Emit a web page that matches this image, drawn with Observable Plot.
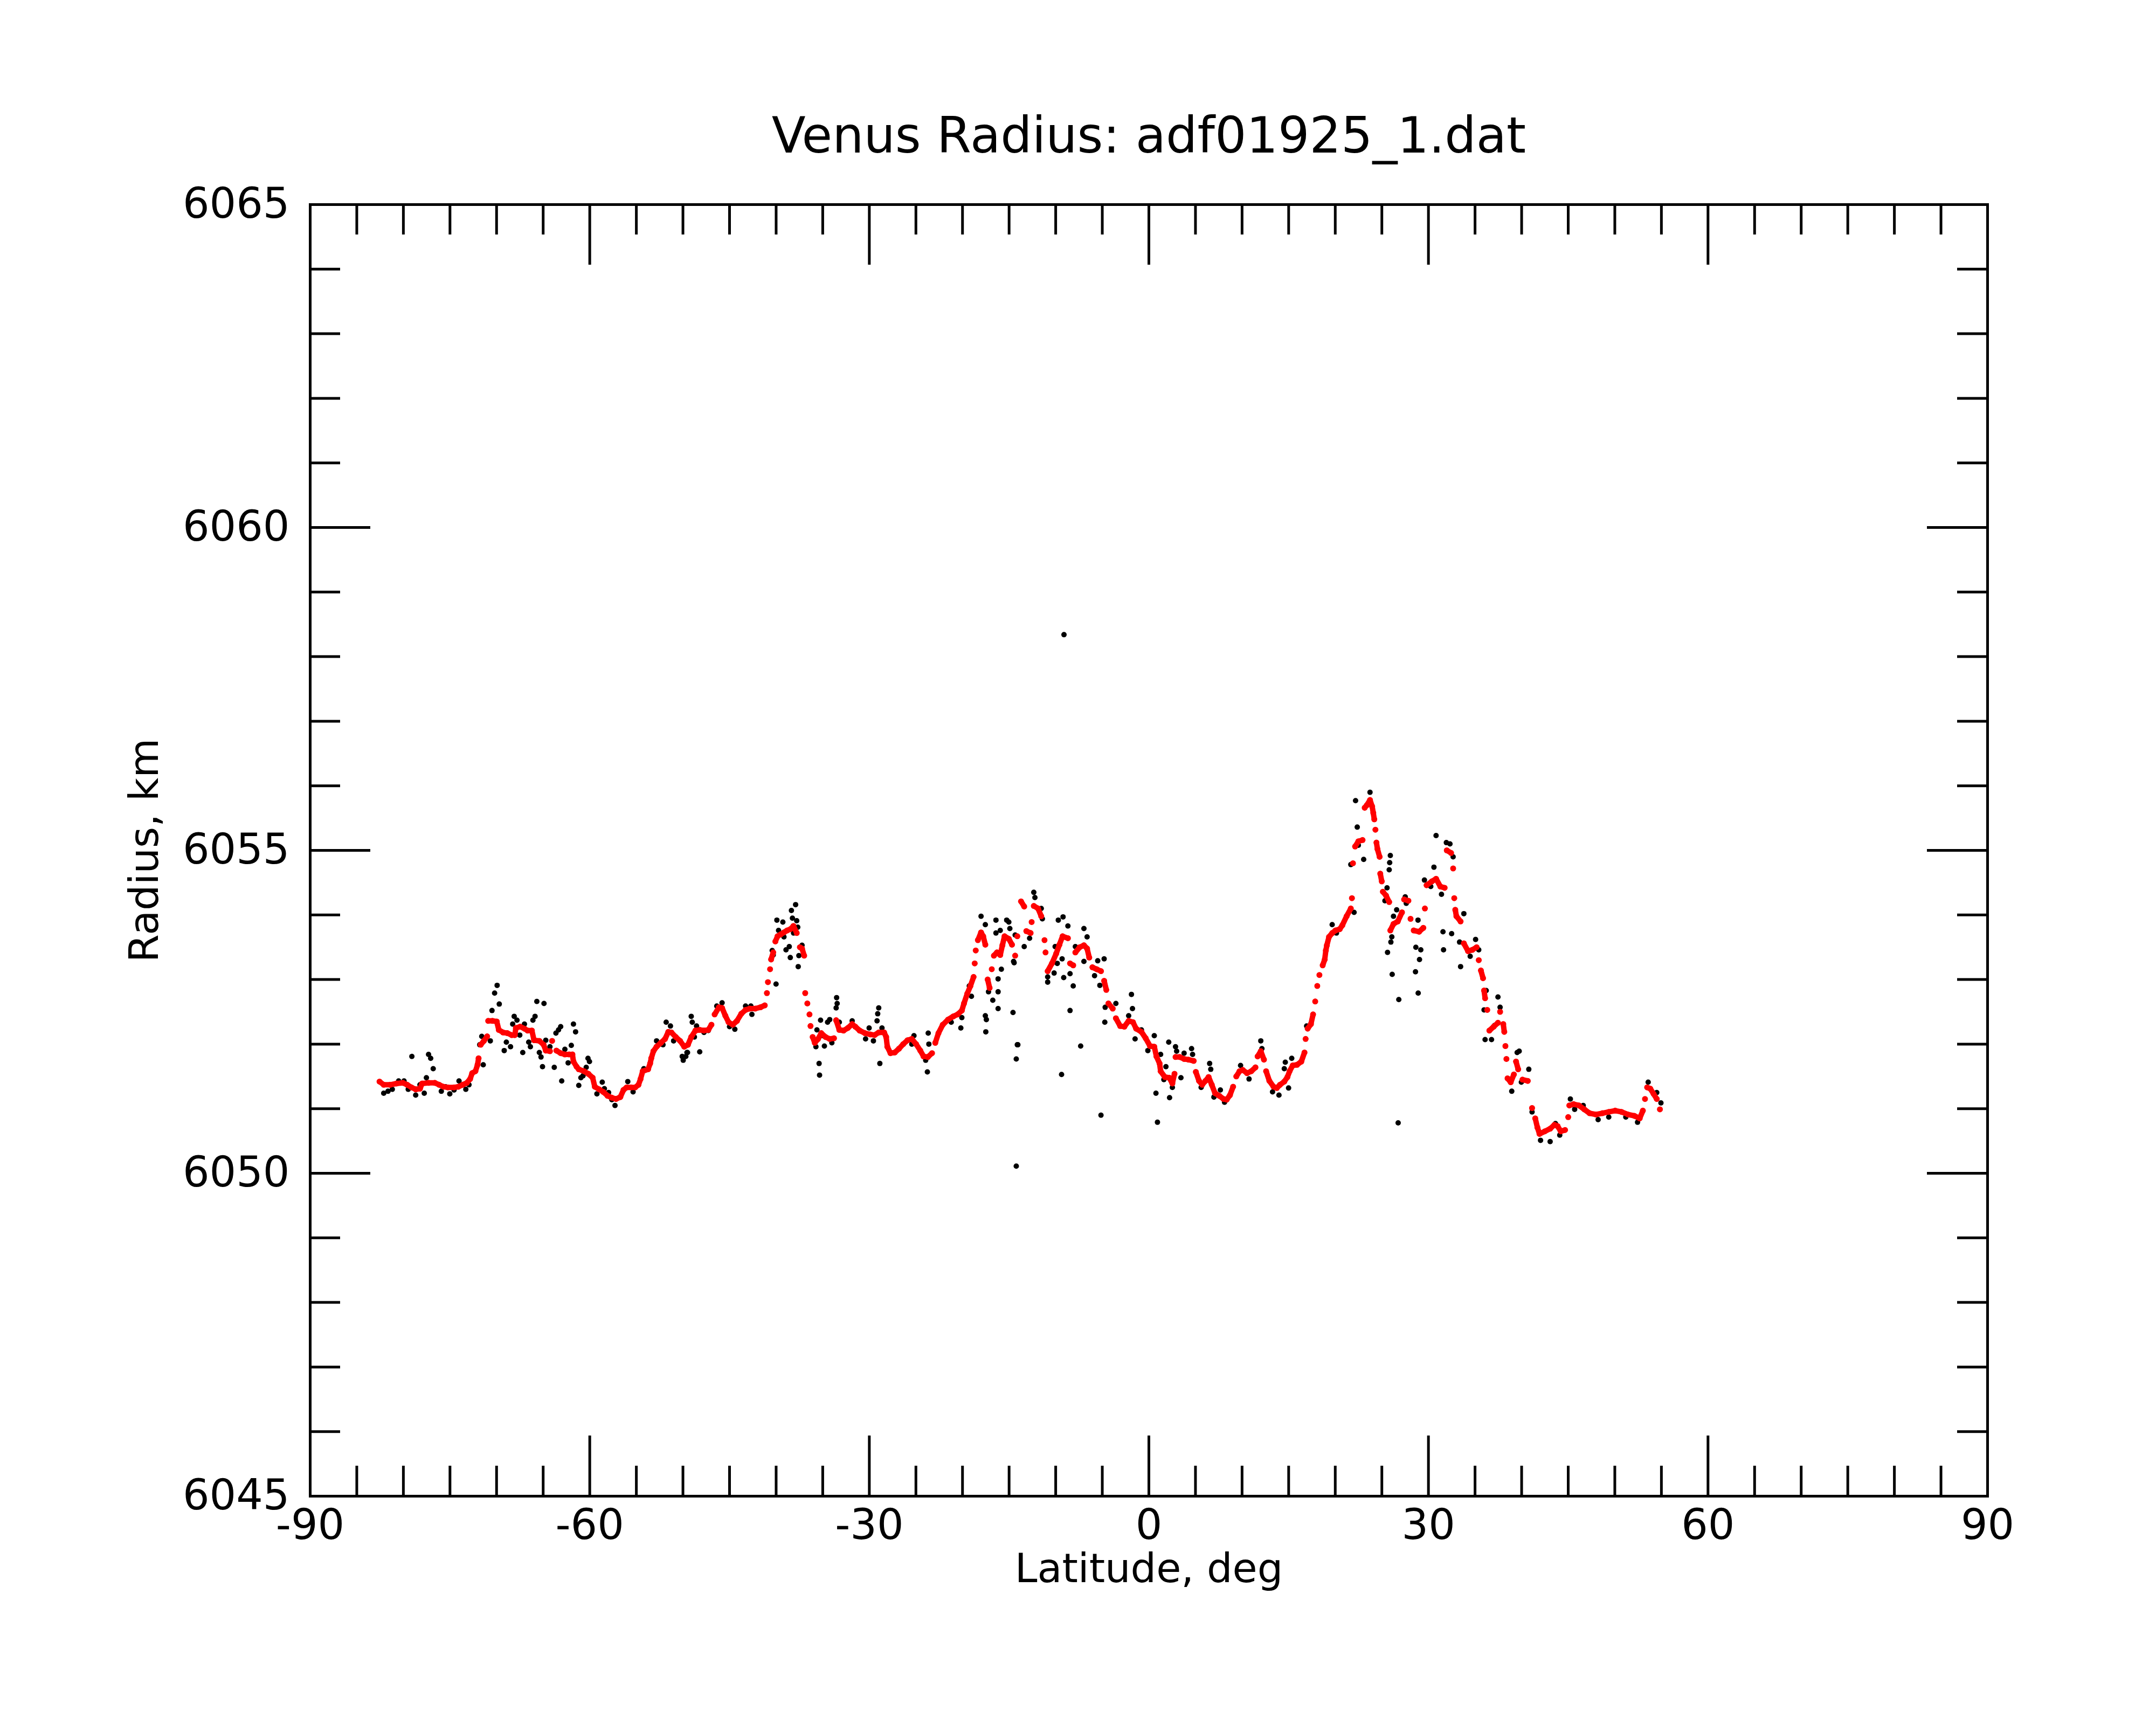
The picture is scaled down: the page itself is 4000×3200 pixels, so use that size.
<!DOCTYPE html>
<html><head><meta charset="utf-8">
<script src="https://cdn.jsdelivr.net/npm/d3@7"></script>
<script src="https://cdn.jsdelivr.net/npm/@observablehq/plot@0.6"></script>
<style>html,body{margin:0;padding:0;background:#fff;} #chart{width:4000px;height:3200px;}</style>
</head><body><div id="chart"></div>
<script>
const titleText = "Venus Radius: adf01925_1.dat";
const xLabel = "Latitude, deg";
const yLabel = "Radius, km";
const xMajorTicks = [-90, -60, -30, 0, 30, 60, 90];
const xMinorTicks = [-85,-80,-75,-70,-65,-55,-50,-45,-40,-35,-25,-20,-15,-10,-5,5,10,15,20,25,35,40,45,50,55,65,70,75,80,85];
const yMajorTicks = [6045, 6050, 6055, 6060, 6065];
const yMinorTicks = [6046,6047,6048,6049,6051,6052,6053,6054,6056,6057,6058,6059,6061,6062,6063,6064];

// smoothed (red) series
const redLat = [-82.56,-82.11,-81.42,-80.73,-80.05,-79.59,-79.13,-78.68,-78.22,-77.99,-77.30,-76.62,-76.16,-75.70,-75.24,-74.56,-74.10,-73.64,-73.19,-72.84,-72.62,-72.27,-72.04,-71.93,-71.70,-71.36,-71.01,-70.90,-70.44,-69.98,-69.76,-69.30,-68.84,-68.38,-68.04,-67.93,-67.47,-67.01,-66.67,-66.21,-65.98,-65.41,-64.95,-64.72,-64.27,-64.04,-63.58,-63.12,-62.67,-62.21,-61.86,-61.75,-61.41,-61.18,-60.61,-60.15,-59.69,-59.46,-59.00,-58.55,-58.09,-57.63,-57.18,-56.72,-56.38,-56.04,-55.57,-55.12,-54.77,-54.55,-54.32,-53.74,-53.52,-53.40,-53.17,-52.83,-52.37,-51.92,-51.57,-51.23,-50.77,-50.31,-49.86,-49.46,-49.11,-48.66,-48.20,-47.74,-47.28,-46.94,-46.60,-46.14,-45.80,-45.45,-45.11,-44.65,-44.20,-43.74,-43.28,-42.82,-42.25,-41.68,-41.22,-40.99,-40.88,-40.65,-40.54,-40.31,-40.08,-39.85,-39.51,-39.16,-38.82,-38.48,-38.14,-37.79,-37.45,-37.22,-36.99,-36.88,-36.65,-36.42,-36.31,-36.08,-35.85,-35.50,-35.16,-34.70,-34.25,-33.79,-33.56,-33.22,-32.76,-32.30,-31.84,-31.50,-31.04,-30.47,-29.90,-29.44,-28.99,-28.41,-28.19,-28.07,-27.73,-27.27,-26.81,-26.36,-25.90,-25.44,-24.98,-24.53,-24.18,-23.72,-23.27,-22.92,-22.58,-22.12,-21.55,-20.98,-20.52,-20.07,-19.84,-19.49,-19.15,-18.81,-18.69,-18.58,-18.35,-18.01,-17.78,-17.55,-17.30,-17.09,-16.86,-16.63,-16.30,-15.95,-15.72,-15.49,-15.03,-14.69,-14.35,-14.12,-13.72,-13.38,-13.15,-12.69,-12.58,-12.35,-11.89,-11.55,-11.20,-11.09,-10.86,-10.40,-9.95,-9.60,-9.26,-8.69,-8.46,-8.12,-7.89,-7.43,-6.97,-6.63,-6.40,-6.06,-5.60,-5.14,-4.80,-4.57,-4.34,-3.88,-3.54,-3.08,-2.63,-2.17,-1.71,-1.37,-0.80,-0.34,0.12,0.58,0.81,1.15,1.26,1.72,2.18,2.52,2.75,2.86,3.32,3.78,4.24,4.81,5.04,5.38,5.72,6.07,6.41,6.75,7.10,7.55,8.01,8.35,8.70,9.04,9.38,9.73,10.07,10.53,10.99,11.44,11.67,12.01,12.35,12.58,12.93,13.38,13.73,14.07,14.53,14.87,15.10,15.44,15.90,16.36,16.70,16.82,17.04,17.39,17.62,17.85,18.07,18.30,18.65,18.87,18.99,19.10,19.33,19.68,20.02,20.48,20.76,21.22,21.67,21.79,21.90,22.13,22.48,22.93,23.16,23.39,23.73,23.96,24.08,24.19,24.31,24.42,24.53,24.76,24.83,24.99,25.11,25.45,25.79,25.91,26.25,26.71,27.16,27.39,27.85,28.08,28.42,29.00,29.45,29.62,29.80,30.37,30.82,31.28,31.74,31.97,32.43,32.65,32.77,32.88,33.00,33.45,33.80,34.25,34.71,35.17,35.40,35.63,35.86,35.97,36.08,36.31,36.54,37.00,37.46,37.69,38.03,38.14,38.26,38.37,38.49,38.83,39.17,39.40,39.63,40.09,40.66,41.12,41.46,41.69,41.92,42.49,43.06,43.52,43.86,44.20,44.66,45.00,45.12,45.58,46.15,46.72,47.29,47.98,48.67,49.35,50.04,50.72,51.41,52.09,52.67,53.01,53.24,53.47,53.81,54.16,54.50,54.84];
const redR = [6051.42,6051.37,6051.37,6051.39,6051.40,6051.37,6051.33,6051.30,6051.31,6051.39,6051.40,6051.40,6051.37,6051.34,6051.33,6051.33,6051.34,6051.37,6051.40,6051.46,6051.55,6051.58,6051.68,6051.78,6051.99,6052.05,6052.12,6052.36,6052.36,6052.35,6052.22,6052.18,6052.17,6052.14,6052.14,6052.25,6052.27,6052.24,6052.21,6052.21,6052.06,6052.05,6051.99,6051.90,6051.89,6052.05,6051.90,6051.86,6051.84,6051.84,6051.84,6051.73,6051.65,6051.61,6051.58,6051.54,6051.48,6051.34,6051.30,6051.26,6051.20,6051.17,6051.15,6051.18,6051.29,6051.33,6051.33,6051.33,6051.37,6051.46,6051.58,6051.61,6051.70,6051.78,6051.89,6051.96,6052.02,6052.08,6052.19,6052.18,6052.11,6052.05,6051.96,6051.99,6052.11,6052.21,6052.22,6052.21,6052.22,6052.30,6052.46,6052.57,6052.56,6052.44,6052.34,6052.30,6052.36,6052.47,6052.53,6052.55,6052.55,6052.57,6052.60,6052.79,6052.96,6053.16,6053.31,6053.42,6053.59,6053.67,6053.70,6053.73,6053.76,6053.78,6053.83,6053.72,6053.50,6053.48,6053.37,6052.79,6052.63,6052.46,6052.28,6052.11,6052.02,6052.08,6052.17,6052.11,6052.08,6052.09,6052.37,6052.22,6052.21,6052.25,6052.31,6052.27,6052.21,6052.17,6052.15,6052.14,6052.18,6052.18,6052.11,6051.96,6051.86,6051.87,6051.93,6052.00,6052.06,6052.08,6052.00,6051.90,6051.81,6051.80,6051.86,6052.02,6052.17,6052.30,6052.38,6052.43,6052.46,6052.52,6052.63,6052.78,6052.90,6053.04,6053.25,6053.45,6053.61,6053.73,6053.67,6053.54,6053.00,6052.87,6053.16,6053.37,6053.42,6053.38,6053.53,6053.67,6053.63,6053.54,6053.37,6053.67,6054.21,6054.13,6053.75,6053.72,6053.89,6054.14,6054.10,6053.98,6053.61,6053.42,6053.13,6053.25,6053.40,6053.54,6053.67,6053.64,6053.25,6053.22,6053.42,6053.50,6053.53,6053.48,6053.34,6053.19,6053.16,6053.13,6052.98,6052.84,6052.63,6052.55,6052.40,6052.28,6052.27,6052.36,6052.34,6052.24,6052.19,6052.09,6051.97,6051.96,6051.81,6051.70,6051.58,6051.49,6051.48,6051.39,6051.54,6051.80,6051.80,6051.77,6051.76,6051.74,6051.57,6051.43,6051.37,6051.43,6051.49,6051.37,6051.24,6051.20,6051.15,6051.14,6051.21,6051.34,6051.50,6051.58,6051.60,6051.55,6051.58,6051.64,6051.81,6051.89,6051.76,6051.58,6051.43,6051.34,6051.32,6051.37,6051.42,6051.49,6051.58,6051.67,6051.68,6051.73,6051.87,6052.08,6052.24,6052.31,6052.46,6052.66,6052.90,6053.07,6053.22,6053.31,6053.45,6053.53,6053.66,6053.72,6053.76,6053.78,6053.84,6053.98,6054.10,6054.26,6054.80,6055.06,6055.14,6055.16,6055.66,6055.70,6055.78,6055.68,6055.58,6055.48,6055.32,6055.12,6055.02,6054.90,6054.64,6054.52,6054.36,6054.30,6054.20,6053.76,6053.86,6053.90,6054.04,6054.24,6054.22,6053.94,6053.76,6053.74,6053.80,6054.10,6054.46,6054.52,6054.56,6054.44,6054.42,6055.00,6054.96,6054.72,6054.26,6054.08,6053.98,6053.90,6053.56,6053.44,6053.46,6053.50,6053.30,6053.14,6053.02,6052.83,6052.71,6052.53,6052.21,6052.27,6052.33,6052.50,6052.31,6052.19,6051.97,6051.77,6051.47,6051.41,6051.53,6051.73,6051.61,6051.45,6051.43,6051.01,6050.85,6050.71,6050.61,6050.65,6050.69,6050.75,6050.73,6050.65,6050.67,6050.87,6051.05,6051.07,6051.05,6050.99,6050.93,6050.91,6050.93,6050.95,6050.97,6050.95,6050.91,6050.89,6050.85,6050.97,6051.15,6051.33,6051.31,6051.23,6051.15,6050.99];

// raw (black) measurements
const blackLat = [-82.11,-81.65,-81.19,-80.51,-79.93,-79.48,-79.09,-78.68,-78.22,-77.76,-77.53,-77.30,-77.07,-76.80,-75.93,-75.47,-75.02,-74.56,-74.03,-73.30,-72.96,-71.81,-71.59,-71.43,-70.67,-70.49,-70.21,-69.94,-69.71,-69.18,-68.95,-68.50,-68.27,-68.11,-67.81,-67.51,-67.19,-67.01,-66.55,-66.37,-66.10,-65.87,-65.68,-65.41,-65.23,-65.07,-64.91,-64.72,-64.27,-63.81,-63.63,-63.35,-63.12,-63.01,-62.67,-62.32,-61.98,-61.75,-61.52,-61.18,-60.95,-60.72,-60.38,-60.19,-60.03,-59.23,-58.66,-58.43,-57.98,-57.63,-57.29,-55.92,-55.35,-54.20,-52.83,-52.14,-51.80,-51.34,-51.00,-50.08,-49.97,-49.51,
-49.69,-49.57,-49.11,-49.00,-48.77,-48.54,-48.20,-47.74,-47.28,-46.37,-45.80,-45.00,-44.43,-43.28,-42.71,-42.60,-40.42,-40.31,-40.01,-39.92,-39.74,-39.28,-39.16,-38.94,-38.59,-38.48,-38.36,-38.25,-38.13,-37.91,-37.79,-37.68,-37.63,-37.56,-37.22,-35.73,-35.62,-35.39,-35.34,-35.23,-34.98,-34.82,-34.48,-34.25,-34.02,-33.56,-33.51,-33.45,-33.22,-31.84,-30.40,-30.02,-29.56,-29.17,-29.10,-28.99,-28.87,-28.64,-25.44,-25.21,-23.95,-23.77,-23.68,-23.61,-21.21,-20.18,-20.07,-19.27,-19.04,-18.01,-17.55,-17.55,-17.44,-17.50,-17.21,-16.75,-16.41,-16.41,-16.18,-16.18,-16.18,-15.95,-15.83,-15.26,-15.03,-14.92,-14.58,-14.46,-14.35,-14.23,-14.12,-14.23,
-14.52,-14.06,-13.38,-12.80,-12.35,-12.23,-11.55,-11.43,-10.86,-10.86,-10.17,-10.06,-9.83,-9.72,-9.37,-9.31,-9.21,-9.14,-9.11,-8.69,-8.46,-8.46,-8.12,-7.89,-7.32,-6.97,-6.97,-6.63,-5.83,-5.49,-5.26,-5.14,-4.80,-4.73,-4.69,-3.54,-2.17,-1.87,-1.76,-1.48,-0.80,-0.11,0.58,0.76,0.92,1.26,1.61,1.83,2.13,2.22,2.52,2.86,2.98,3.44,3.78,4.58,4.69,5.61,6.52,6.64,6.98,7.67,8.12,9.84,10.75,12.01,12.13,13.27,13.96,14.53,14.64,14.99,15.33,16.93,19.67,20.13,
22.18,23.73,22.36,22.48,23.05,21.67,22.02,25.91,25.84,25.79,25.56,25.33,26.59,26.25,26.07,25.97,25.61,26.11,26.82,26.75,27.51,27.62,28.88,28.65,29.18,29.04,28.61,28.90,29.57,30.25,30.59,30.82,31.40,31.56,31.62,31.92,32.31,32.49,32.65,33.45,33.80,33.34,34.48,35.06,35.40,36.20,35.97,37.46,37.69,37.11,36.08,36.77,38.94,39.52,39.74,40.77,39.97,41.12,42.03,43.06,43.63,44.09,45.23,45.69,46.61,48.21,49.35,51.18,52.44,53.58,54.50,54.95];
const blackR = [6051.24,6051.27,6051.30,6051.43,6051.43,6051.30,6051.81,6051.21,6051.37,6051.24,6051.48,6051.84,6051.78,6051.62,6051.27,6051.34,6051.23,6051.29,6051.43,6051.30,6051.37,6051.99,6052.12,6051.68,6052.05,6052.52,6052.79,6052.91,6052.62,6051.90,6052.03,6051.96,6052.31,6052.43,6052.37,6052.14,6051.87,6052.31,6052.03,6051.96,6052.37,6052.43,6052.66,6051.87,6051.80,6051.65,6052.63,6052.06,6051.96,6051.64,6052.17,6052.22,6052.27,6051.43,6051.92,6051.71,6051.98,6052.31,6052.19,6051.36,6051.48,6051.51,6051.64,6051.78,6051.73,6051.23,6051.41,6051.31,6051.25,6051.14,6051.05,6051.42,6051.26,6051.62,6052.05,6051.99,6052.34,6052.28,6052.05,6051.81,6051.75,6051.87,
6051.81,6051.87,6052.43,6052.34,6052.11,6052.28,6051.88,6052.18,6052.21,6052.59,6052.64,6052.27,6052.23,6052.59,6052.59,6052.46,6053.45,6053.38,6052.93,6053.92,6053.76,6053.89,6053.66,6053.46,6053.51,6053.34,6054.07,6053.95,6053.72,6054.16,6053.91,6053.81,6053.20,6053.37,6053.53,6051.96,6052.22,6051.70,6051.52,6052.37,6052.13,6051.97,6052.34,6052.38,6052.02,6052.56,6052.72,6052.63,6052.34,6052.36,6052.08,6052.25,6052.05,6052.36,6052.47,6052.56,6051.70,6052.25,6052.00,6052.13,6051.75,6051.57,6052.17,6052.00,6052.34,6052.25,6052.41,6052.90,6052.74,6053.98,6053.85,6052.44,6052.38,6052.19,6052.81,6052.68,6053.92,6053.72,6052.81,6053.01,6052.55,6053.76,6053.16,6053.92,6053.89,6053.79,6052.49,6053.26,6053.69,6051.77,6051.99,6050.11,
6053.28,6051.99,6053.51,6053.64,6054.35,6054.27,6054.10,6053.94,6052.96,6053.04,6053.10,6053.51,6053.25,6053.92,6051.53,6053.32,6053.97,6053.03,6058.34,6053.83,6052.52,6053.09,6052.90,6053.51,6051.97,6053.79,6053.28,6053.66,6053.06,6053.29,6052.91,6050.90,6053.32,6052.34,6052.57,6052.63,6052.44,6052.77,6052.55,6052.08,6052.22,6051.90,6052.13,6051.24,6050.79,6051.84,6051.45,6051.65,6052.03,6051.17,6051.33,6051.96,6051.89,6051.48,6051.86,6051.93,6051.84,6051.33,6051.70,6051.61,6051.18,6051.29,6051.10,6051.67,6051.46,6052.05,6051.93,6051.26,6051.21,6051.62,6051.72,6051.32,6051.78,6052.28,6053.85,6053.72,
6055.77,6055.90,6055.36,6055.08,6054.86,6054.78,6054.04,6054.92,6054.81,6054.70,6054.42,6054.22,6054.08,6053.98,6053.66,6053.58,6053.42,6053.08,6052.69,6050.78,6054.28,6054.18,6053.92,6053.50,6053.46,6053.31,6053.12,6052.79,6054.54,6054.44,6054.74,6055.23,6054.32,6053.74,6053.46,6055.12,6055.10,6053.71,6054.90,6053.20,6054.02,6053.58,6053.36,6053.62,6053.46,6052.83,6052.53,6052.73,6052.57,6052.29,6052.07,6052.07,6051.27,6051.87,6051.89,6051.61,6051.41,6050.95,6050.51,6050.49,6050.77,6050.59,6051.15,6050.99,6051.05,6050.83,6050.87,6050.87,6050.79,6051.41,6051.25,6051.09];

const W = 4000, H = 3200;
const mL = 575, mR = 313, mT = 379, mB = 425;
const plotW = W - mL - mR, plotH = H - mT - mB;
const minorLen = 56, majorLen = 112, sw = 5;

const black = blackLat.map((lat, i) => ({lat, r: blackR[i]}));
const red = redLat.map((lat, i) => ({lat, r: redR[i]}));
let seg = 0;
red.forEach((d, i) => {
  if (i > 0 && (Math.abs(d.r - red[i - 1].r) > 0.15 || d.lat - red[i - 1].lat > 0.8)) seg++;
  d.seg = seg;
});

const xInner = xMajorTicks.slice(1, -1);
const yInner = yMajorTicks.slice(1, -1);
const tickStyle = {stroke: "black", strokeWidth: sw};

const chart = Plot.plot({
  width: W, height: H,
  marginLeft: mL, marginRight: mR, marginTop: mT, marginBottom: mB,
  style: {fontFamily: "DejaVu Sans", background: "white", color: "black", overflow: "visible"},
  x: {domain: [-90, 90]},
  y: {domain: [6045, 6065]},
  marks: [
    Plot.dot(black, {x: "lat", y: "r", r: 5, fill: "black"}),
    Plot.line(red, {x: "lat", y: "r", z: "seg", stroke: "#ff0000", strokeWidth: 10, strokeLinecap: "round", strokeLinejoin: "round"}),
    Plot.dot(red, {x: "lat", y: "r", r: 5.5, fill: "#ff0000"}),
    Plot.tickX(xMinorTicks, {x: d => d, insetTop: plotH - minorLen, ...tickStyle}),
    Plot.tickX(xMinorTicks, {x: d => d, insetBottom: plotH - minorLen, ...tickStyle}),
    Plot.tickX(xInner, {x: d => d, insetTop: plotH - majorLen, ...tickStyle}),
    Plot.tickX(xInner, {x: d => d, insetBottom: plotH - majorLen, ...tickStyle}),
    Plot.tickY(yMinorTicks, {y: d => d, insetRight: plotW - minorLen, ...tickStyle}),
    Plot.tickY(yMinorTicks, {y: d => d, insetLeft: plotW - minorLen, ...tickStyle}),
    Plot.tickY(yInner, {y: d => d, insetRight: plotW - majorLen, ...tickStyle}),
    Plot.tickY(yInner, {y: d => d, insetLeft: plotW - majorLen, ...tickStyle}),
    Plot.frame({stroke: "black", strokeWidth: sw}),
    Plot.axisX(xMajorTicks, {anchor: "bottom", tickSize: 0, tickPadding: 24, fontSize: 78, tickFormat: d => String(d), label: null}),
    Plot.axisY(yMajorTicks, {anchor: "left", tickSize: 0, tickPadding: 38, fontSize: 78, tickFormat: d => String(d), label: null}),
    Plot.text([titleText], {text: d => d, frameAnchor: "top", dy: -97, lineAnchor: "bottom", textAnchor: "middle", fontSize: 92}),
    Plot.text([xLabel], {text: d => d, frameAnchor: "bottom", dy: 159, lineAnchor: "bottom", textAnchor: "middle", fontSize: 75}),
    Plot.text([yLabel], {text: d => d, frameAnchor: "left", dx: -283, rotate: -90, lineAnchor: "bottom", textAnchor: "middle", fontSize: 75})
  ]
});
document.getElementById("chart").appendChild(chart);
</script>
</body></html>
